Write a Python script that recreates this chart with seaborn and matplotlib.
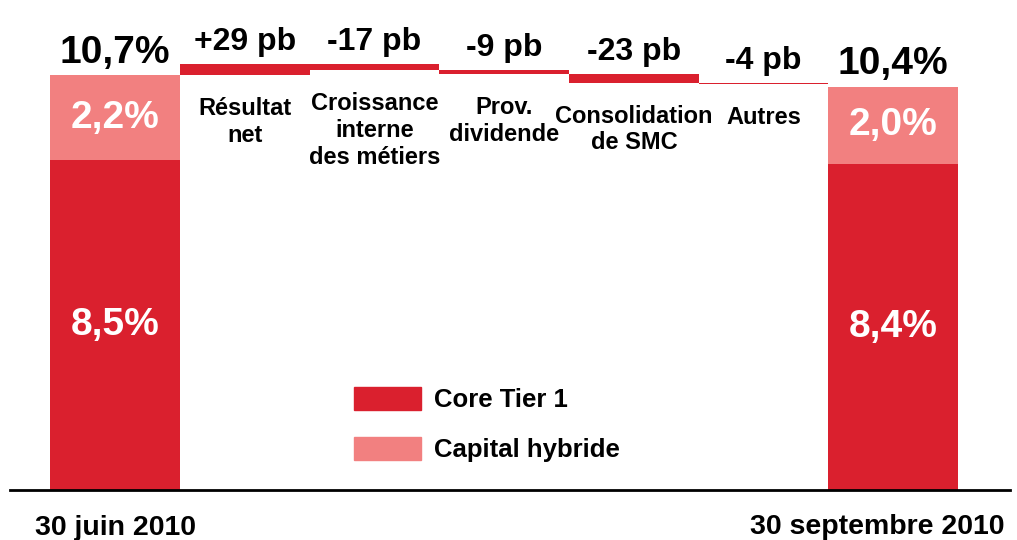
import matplotlib.pyplot as plt
import seaborn as sns
import pandas as pd
import numpy as np
from matplotlib.patches import Patch

# donnees
dates = ["30 juin 2010", "30 septembre 2010"]
core_tier1 = [8.5, 8.4]
hybride = [2.2, 2.0]
totaux = [10.7, 10.4]
etapes = ["Résultat\nnet", "Croissance\ninterne\ndes métiers", "Prov.\ndividende",
          "Consolidation\nde SMC", "Autres"]
variations_pb = [29, -17, -9, -23, -4]

ROUGE = "#DA202E"
ROSE = "#F28080"

sns.set_style("white")
plt.rcParams['font.family'] = ['Liberation Sans', 'DejaVu Sans']
plt.rcParams['font.weight'] = 'bold'
plt.rcParams['text.color'] = 'black'

colonnes = ["debut"] + etapes + ["fin"]
vide = [np.nan] * len(etapes)
df = pd.DataFrame({
    "colonne": colonnes,
    "total": [totaux[0]] + vide + [totaux[1]],
    "core": [core_tier1[0]] + vide + [core_tier1[1]],
})

fig = plt.figure(figsize=(10.17, 5.40), dpi=100)
ax = fig.add_axes([10/1017, 50/540, 1000/1017, 490/540])

# barres empilees : total en rose, core tier 1 en rouge par-dessus
sns.barplot(data=df, x="colonne", y="total", order=colonnes, color=ROSE,
            saturation=1, width=1.0, errorbar=None, linewidth=0, ax=ax)
sns.barplot(data=df, x="colonne", y="core", order=colonnes, color=ROUGE,
            saturation=1, width=1.0, errorbar=None, linewidth=0, ax=ax)

# etiquettes des barres de debut et fin
for pos, tot, core, hyb in zip([0, len(colonnes) - 1], totaux, core_tier1, hybride):
    ax.annotate(f"{tot:.1f}%".replace(".", ","), xy=(pos, tot), xytext=(0, 3),
                textcoords="offset points", ha="center", va="bottom", fontsize=28)
    ax.text(pos, core / 2, f"{core:.1f}%".replace(".", ","), ha="center",
            va="center", color="white", fontsize=28)
    ax.text(pos, core + hyb / 2, f"{hyb:.1f}%".replace(".", ","), ha="center",
            va="center", color="white", fontsize=28)

# cascade des variations
niveau = totaux[0]
for i, (nom, d) in enumerate(zip(etapes, variations_pb)):
    delta = d / 100
    bas = min(niveau, niveau + delta)
    haut = max(niveau, niveau + delta)
    ax.bar(i + 1, abs(delta), bottom=bas, width=1.0, color=ROUGE, linewidth=0)
    ax.annotate(f"{d:+d} pb", xy=(i + 1, haut), xytext=(0, 5),
                textcoords="offset points", ha="center", va="bottom", fontsize=23)
    ax.annotate(nom, xy=(i + 1, bas), xytext=(0, -16), textcoords="offset points",
                ha="center", va="top", fontsize=17)
    niveau += delta

# dates sous l'axe
ax.text(0, -0.97, dates[0], ha="center", va="center", fontsize=20.5)
ax.annotate(dates[1], xy=(1, 0), xycoords="axes fraction", xytext=(-4, -27),
            textcoords="offset points", ha="right", va="center", fontsize=20.5)

ax.set_xlim(-0.81, 6.9)
ax.set_ylim(0, 12.63)
ax.set_xticks([])
ax.set_yticks([])
ax.set_xlabel("")
ax.set_ylabel("")
for s in ["top", "left", "right"]:
    ax.spines[s].set_visible(False)
ax.spines["bottom"].set_color("black")
ax.spines["bottom"].set_linewidth(2)

ax.legend(handles=[Patch(color=ROUGE, label="Core Tier 1"),
                   Patch(color=ROSE, label="Capital hybride")],
          loc="upper left", bbox_to_anchor=(354/1017, 1 - 387/540),
          bbox_transform=fig.transFigure, frameon=False, fontsize=18.5,
          handlelength=2.6, handleheight=1.0, labelspacing=0.95,
          handletextpad=0.5, borderpad=0, borderaxespad=0)

fig.savefig("out.png", dpi=100)
